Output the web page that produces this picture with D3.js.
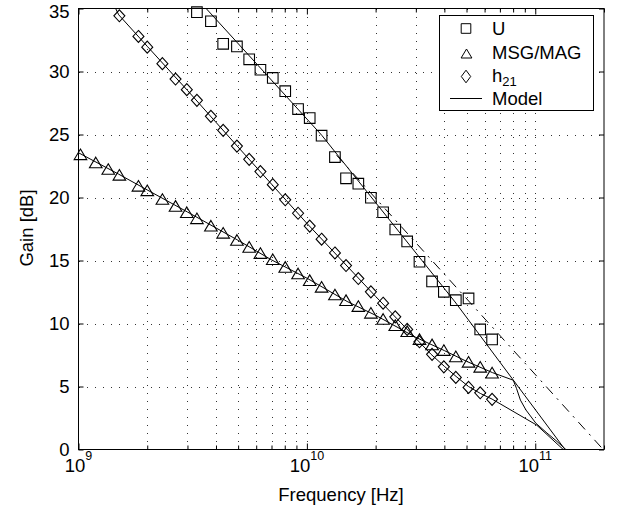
<!DOCTYPE html>
<html><head><meta charset="utf-8">
<script src="https://cdn.jsdelivr.net/npm/d3@7"></script>
<style>
html,body{margin:0;padding:0;background:#fff;}
svg{display:block;font-family:"Liberation Sans",Arial,Helvetica,sans-serif;}
</style></head><body>
<svg id="chart" width="618" height="514"></svg>
<script>
// ---------- data (frequencies in GHz, gains in dB) ----------
const freqGHz = [1.02, 1.19, 1.35, 1.51, 1.83, 2.0, 2.33, 2.66, 2.98, 3.3, 3.8, 4.3, 4.94, 5.59, 6.26, 7.09, 8.04, 9.15,
  10.29, 11.6, 13.27, 14.84, 16.8, 19.07, 21.57, 24.38, 27.49, 31.12, 35.33, 39.79, 44.89, 51.04, 57.41, 64.71];

const msgGain = [23.43, 22.78, 22.26, 21.80, 20.93, 20.57, 19.88, 19.33, 18.83, 18.35, 17.76, 17.20, 16.63, 16.08, 15.59, 15.10, 14.49, 13.97,
  13.44, 12.91, 12.30, 11.85, 11.38, 10.85, 10.36, 9.87, 9.39, 8.76, 8.34, 7.89, 7.39, 6.96, 6.56, 6.10];

const h21Freq = freqGHz.slice(3);
const h21Gain = [34.42, 32.78, 31.93, 30.62, 29.40, 28.56, 27.71, 26.44, 25.33, 24.08, 23.03, 22.06, 21.02, 19.82, 18.75,
  17.73, 16.69, 15.60, 14.60, 13.57, 12.51, 11.61, 10.53, 9.53, 8.55, 7.55, 6.56, 5.72, 4.93, 4.50, 3.98];

const uFreq = freqGHz.slice(9);
const uGain = [34.71, 33.99, 32.20, 31.99, 30.97, 30.14, 29.49, 28.44, 27.02, 26.30, 24.91, 23.21, 21.52, 21.10, 19.98,
  18.83, 17.46, 16.51, 14.90, 13.34, 12.51, 11.85, 11.99, 9.53, 8.74];

// model curves
const modelUFreq = [3.0, 3.63, 11.63, 31.85, 44.55, 135.0, 150.0];
const modelUGain = [36.6, 34.98, 24.93, 15.02, 11.71, 0.0, -0.9];

const modelUdashFreq = [13.5, 198.4];
const modelUdashGain = [23.35, 0.0];

const modelMsgFreq = [1.0, 1.5, 2.0, 3.0, 5.0, 7.0, 10.0, 15.0, 20.0, 30.0, 40.0, 50.0, 65.0, 80.1,
  82.8, 86.1, 91.1, 100.7, 112.5, 123.2, 136.2, 145.0];
const modelMsgGain = [23.55, 21.85, 20.6, 18.85, 16.6, 15.05, 13.6, 11.75, 10.65, 8.9, 7.85, 7.0, 6.1, 5.5,
  4.84, 3.92, 3.13, 2.08, 1.31, 0.71, 0.0, -0.5];

const modelH21Freq = [1.3, 1.5, 2.0, 3.0, 5.0, 10.0, 20.0, 35.0, 40.0, 45.0, 51.0, 57.5, 64.7, 101.4, 132.6, 145.0];
const modelH21Gain = [36.8, 34.5, 32.0, 28.5, 24.0, 17.95, 12.15, 7.55, 6.6, 5.8, 5.0, 4.45, 4.0, 1.94, 0.0, -0.8];

// axes ticks
const yTicks = [0, 5, 10, 15, 20, 25, 30, 35];
const xMajor = [1e9, 1e10, 1e11];
const xExponent = ["9", "10", "11"];
const xMinor = [2e9,3e9,4e9,5e9,6e9,7e9,8e9,9e9,2e10,3e10,4e10,5e10,6e10,7e10,8e10,9e10,2e11];

const legendItems = ["U", "MSG/MAG", "h", "Model"];

// ---------- chart ----------
const svg = d3.select("#chart");
const X0 = 78.5, X1 = 604, Y0 = 449.5, Y1 = 8.5;
const x = d3.scaleLog().domain([1e9, 2e11]).range([X0, X1]);
const y = d3.scaleLinear().domain([0, 35]).range([Y0, Y1]);
const FS = 18.5;

svg.append("rect").attr("width", 618).attr("height", 514).attr("fill", "#fff");

svg.append("defs").append("clipPath").attr("id", "clip")
  .append("rect").attr("x", X0).attr("y", Y1).attr("width", X1 - X0).attr("height", Y0 - Y1);

// grid
const grid = svg.append("g").attr("stroke", "#333").attr("stroke-width", 1).attr("stroke-dasharray", "1,7")
  .attr("shape-rendering", "crispEdges");
xMajor.concat(xMinor).filter(v => v > 1e9 && v < 2e11).forEach(v => {
  const px = Math.round(x(v)) + 0.5;
  grid.append("line").attr("x1", px).attr("x2", px).attr("y1", Y0).attr("y2", Y1);
});
yTicks.filter(v => v > 0 && v < 35).forEach(v => {
  const py = Math.round(y(v)) + 0.5;
  grid.append("line").attr("x1", X0).attr("x2", X1).attr("y1", py).attr("y2", py);
});

// axes ticks (inward)
function styleAxis(g) {
  g.select(".domain").remove();
  g.selectAll("line").attr("stroke", "#000");
  g.selectAll("text").attr("font-size", FS).attr("fill", "#000").attr("font-family", '"Liberation Sans",Arial,sans-serif');
}
svg.append("g").attr("transform", `translate(0,${Y0})`)
  .call(d3.axisBottom(x).tickValues(xMinor).tickSize(-4).tickSizeOuter(0).tickFormat("")).call(styleAxis);
svg.append("g").attr("transform", `translate(0,${Y0})`)
  .call(d3.axisBottom(x).tickValues(xMajor).tickSize(-6).tickSizeOuter(0).tickFormat("")).call(styleAxis);
svg.append("g").attr("transform", `translate(0,${Y1})`)
  .call(d3.axisTop(x).tickValues(xMinor).tickSize(-4).tickSizeOuter(0).tickFormat("")).call(styleAxis);
svg.append("g").attr("transform", `translate(0,${Y1})`)
  .call(d3.axisTop(x).tickValues(xMajor).tickSize(-6).tickSizeOuter(0).tickFormat("")).call(styleAxis);
const yAx = svg.append("g").attr("transform", `translate(${X0},0)`)
  .call(d3.axisLeft(y).tickValues(yTicks).tickSize(-5).tickSizeOuter(0).tickPadding(9)).call(styleAxis);
// keep the top label inside the picture
yAx.selectAll(".tick text").filter(d => d === 35).attr("dy", "0.46em");
svg.append("g").attr("transform", `translate(${X1},0)`)
  .call(d3.axisRight(y).tickValues(yTicks).tickSize(-5).tickSizeOuter(0).tickFormat("")).call(styleAxis);

// x tick labels with exponent
xMajor.forEach((v, i) => {
  const t = svg.append("text").attr("x", x(v)).attr("y", 471.5).attr("text-anchor", "middle")
    .attr("font-size", FS).attr("fill", "#000");
  t.append("tspan").text("10");
  t.append("tspan").attr("dy", -12).attr("font-size", 12.5).text(xExponent[i]);
});

// box
svg.append("rect").attr("x", X0).attr("y", Y1).attr("width", X1 - X0).attr("height", Y0 - Y1)
  .attr("fill", "none").attr("stroke", "#000").attr("stroke-width", 1);

// axis titles
svg.append("text").attr("x", 341).attr("y", 500.5).attr("text-anchor", "middle").attr("font-size", FS)
  .text("Frequency [Hz]");
svg.append("text").attr("transform", "translate(33,228) rotate(-90)").attr("text-anchor", "middle")
  .attr("font-size", FS).text("Gain [dB]");

// model lines
const line = d3.line().x(d => x(d[0] * 1e9)).y(d => y(d[1]));
const plot = svg.append("g").attr("clip-path", "url(#clip)");
const zip = (a, b) => a.map((v, i) => [v, b[i]]);
[[modelUFreq, modelUGain], [modelMsgFreq, modelMsgGain], [modelH21Freq, modelH21Gain]].forEach(([f, g]) => {
  plot.append("path").attr("d", line(zip(f, g))).attr("fill", "none").attr("stroke", "#000").attr("stroke-width", 1);
});
plot.append("path").attr("d", line(zip(modelUdashFreq, modelUdashGain))).attr("fill", "none")
  .attr("stroke", "#000").attr("stroke-width", 1).attr("stroke-dasharray", "10,6,2,6");

// markers
const sq = s => `M${-s},${-s}H${s}V${s}H${-s}Z`;
const tri = (w, h) => `M0,${-h}L${w},${h}L${-w},${h}Z`;
const dia = (w, h) => `M0,${-h}L${w},0L0,${h}L${-w},0Z`;
const mk = svg.append("g").attr("fill", "none").attr("stroke", "#000").attr("stroke-width", 1.1);
uFreq.forEach((f, i) => mk.append("path").attr("d", sq(5.3))
  .attr("transform", `translate(${x(f * 1e9)},${y(uGain[i])})`));
freqGHz.forEach((f, i) => mk.append("path").attr("d", tri(6.3, 5.3))
  .attr("transform", `translate(${x(f * 1e9)},${y(msgGain[i])})`));
h21Freq.forEach((f, i) => mk.append("path").attr("d", dia(5.5, 6))
  .attr("transform", `translate(${x(f * 1e9)},${y(h21Gain[i])})`));

// legend
const lg = svg.append("g");
lg.append("rect").attr("x", 439.5).attr("y", 15.5).attr("width", 154).attr("height", 95)
  .attr("fill", "#fff").attr("stroke", "#000").attr("stroke-width", 1);
lg.append("path").attr("d", sq(4.8)).attr("transform", "translate(466,28.5)")
  .attr("fill", "none").attr("stroke", "#000");
lg.append("path").attr("d", tri(5.4, 4.5)).attr("transform", "translate(466.5,53.5)")
  .attr("fill", "none").attr("stroke", "#000");
lg.append("path").attr("d", dia(4.7, 6.3)).attr("transform", "translate(466,76.5)")
  .attr("fill", "none").attr("stroke", "#000");
lg.append("line").attr("x1", 450).attr("x2", 482).attr("y1", 98.5).attr("y2", 98.5).attr("stroke", "#000");
const ly = [35, 58.5, 82, 105];
legendItems.forEach((t, i) => {
  const tx = lg.append("text").attr("x", 492).attr("y", ly[i]).attr("font-size", FS).text(t);
  if (t === "h") tx.append("tspan").attr("dy", 3.5).attr("font-size", 13).text("21");
});
</script>
</body></html>
